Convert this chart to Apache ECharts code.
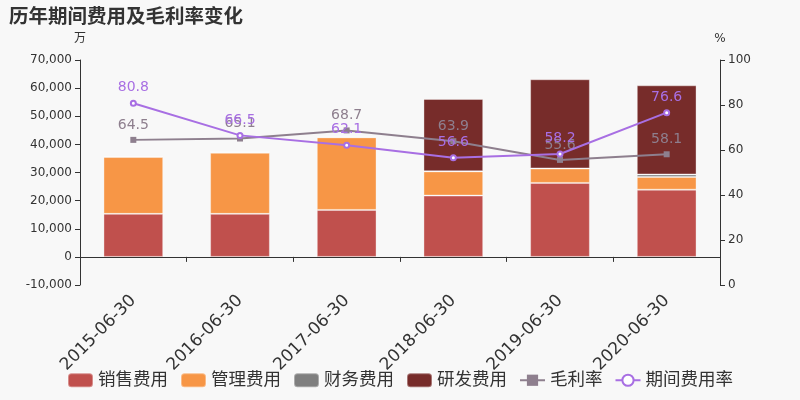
<!DOCTYPE html>
<html>
<head>
<meta charset="utf-8">
<script src="https://cdn.jsdelivr.net/npm/echarts@6/dist/echarts.min.js"></script>
<style>html,body{margin:0;padding:0;background:#f8f8f8;}#c{width:800px;height:400px;}</style>
</head>
<body>
<div id="c"></div>
<script>
var categories = ['2015-06-30','2016-06-30','2017-06-30','2018-06-30','2019-06-30','2020-06-30'];
var salesExp = [15300, 15300, 16700, 21800, 26300, 23900];
var mgmtExp = [20200, 21700, 25800, 8600, 5100, 4500];
var finExp = [300, 300, 100, 50, 50, 900];
var rdExp = [0, 0, 0, 25700, 31700, 31700];
var grossMargin = [64.5, 65.1, 68.7, 63.9, 55.6, 58.1];
var periodRate = [80.8, 66.5, 62.1, 56.6, 58.2, 76.6];

var font = 'DejaVu Sans, Noto Sans CJK SC, sans-serif';
var chart = echarts.init(document.getElementById('c'));
function barSeries(name, data, color) {
  return {
    name: name, type: 'bar', stack: 'exp', data: data, barWidth: '56%',
    itemStyle: { color: color, borderColor: 'rgba(255,255,255,0.35)', borderWidth: 1 },
    emphasis: { disabled: true }
  };
}
chart.setOption({
  backgroundColor: '#f8f8f8',
  animation: false,
  textStyle: { fontFamily: font },
  title: {
    text: '历年期间费用及毛利率变化', left: 4, top: 3,
    textStyle: { fontSize: 19.5, fontWeight: 'bold', color: '#333', fontFamily: font }
  },
  legend: {
    bottom: 6, left: 'center', itemWidth: 25, itemHeight: 14, itemGap: 12,
    textStyle: { fontSize: 17.5, color: '#333' },
    data: [
      { name: '销售费用', icon: 'roundRect' },
      { name: '管理费用', icon: 'roundRect' },
      { name: '财务费用', icon: 'roundRect' },
      { name: '研发费用', icon: 'roundRect' },
      { name: '毛利率' },
      { name: '期间费用率' }
    ]
  },
  grid: { left: 80, right: 80, top: 60, bottom: 115 },
  xAxis: {
    type: 'category', data: categories,
    axisLine: { onZero: true, lineStyle: { color: '#333' } },
    axisTick: { show: true, length: 5, lineStyle: { color: '#333' } },
    axisLabel: { rotate: 45, margin: 13, fontSize: 17, color: '#333' }
  },
  yAxis: [
    {
      type: 'value', name: '万', min: -10000, max: 70000, interval: 10000,
      nameTextStyle: { color: '#333', fontSize: 12, align: 'center' }, nameGap: 15,
      axisLine: { show: true, lineStyle: { color: '#333' } },
      axisTick: { show: true, length: 5 },
      axisLabel: { fontSize: 12, color: '#333', formatter: function (v) { return v.toLocaleString('en-US'); } },
      splitLine: { show: false }
    },
    {
      type: 'value', name: '%', min: 0, max: 100, interval: 20,
      nameTextStyle: { color: '#333', fontSize: 12, align: 'center' }, nameGap: 15,
      axisLine: { show: true, lineStyle: { color: '#333' } },
      axisTick: { show: true, length: 5 },
      axisLabel: { fontSize: 12, color: '#333' },
      splitLine: { show: false }
    }
  ],
  series: [
    barSeries('销售费用', salesExp, '#c0504d'),
    barSeries('管理费用', mgmtExp, '#f79646'),
    barSeries('财务费用', finExp, '#7f7f7f'),
    barSeries('研发费用', rdExp, '#772c2a'),
    {
      name: '毛利率', type: 'line', yAxisIndex: 1, data: grossMargin, z: 5,
      symbol: 'rect', symbolSize: 6,
      lineStyle: { color: '#8e7f8e', width: 2 }, itemStyle: { color: '#8e7f8e' },
      label: { show: true, position: 'top', distance: 5, fontSize: 14, color: '#8e7f8e' }
    },
    {
      name: '期间费用率', type: 'line', yAxisIndex: 1, data: periodRate, z: 6,
      symbol: 'emptyCircle', symbolSize: 5,
      lineStyle: { color: '#a86fe3', width: 2 }, itemStyle: { color: '#a86fe3', borderColor: '#a86fe3' },
      label: { show: true, position: 'top', distance: 5, fontSize: 14, color: '#a86fe3' }
    }
  ]
});
</script>
</body>
</html>
